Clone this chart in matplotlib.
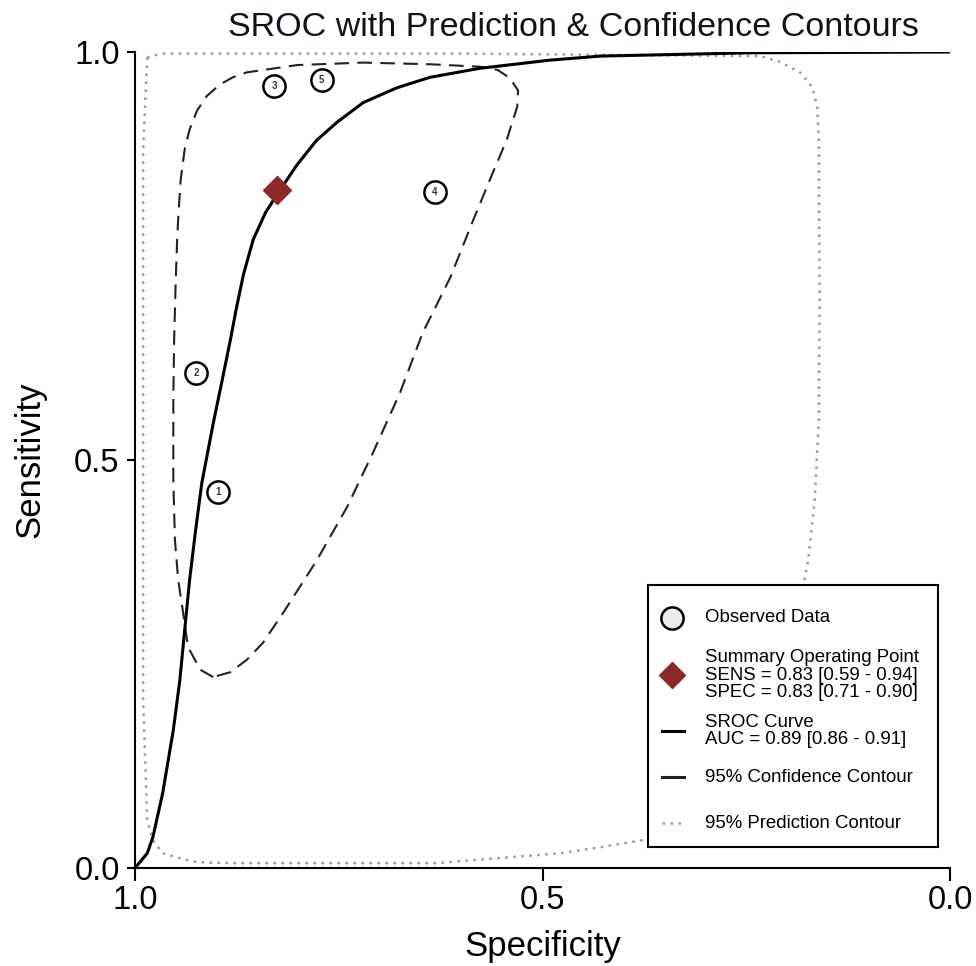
import numpy as np
import matplotlib.pyplot as plt
from matplotlib.lines import Line2D
from matplotlib.patches import Rectangle

plt.rcParams['font.family'] = ['Liberation Sans', 'DejaVu Sans']

# observed studies (specificity, sensitivity)
study_ids = ['1', '2', '3', '4', '5']
study_spec = [0.898, 0.925, 0.829, 0.632, 0.771]
study_sens = [0.461, 0.607, 0.958, 0.828, 0.966]

# summary operating point
sum_spec = 0.826
sum_sens = 0.831

# SROC curve
sroc_spec = [1.000, 0.985, 0.978, 0.966, 0.953, 0.945, 0.939, 0.933, 0.926, 0.918,
             0.904, 0.893, 0.883, 0.876, 0.867, 0.855, 0.840, 0.822, 0.801, 0.777,
             0.752, 0.720, 0.679, 0.638, 0.577, 0.491, 0.429, 0.245, 0.000]
sroc_sens = [0.000, 0.018, 0.038, 0.092, 0.169, 0.230, 0.292, 0.353, 0.411, 0.472,
             0.545, 0.598, 0.647, 0.684, 0.727, 0.770, 0.803, 0.831, 0.862, 0.892,
             0.914, 0.938, 0.956, 0.969, 0.980, 0.990, 0.995, 0.999, 1.000]

# 95% confidence contour
conf_spec = [0.904, 0.920, 0.935, 0.941, 0.947, 0.951, 0.953, 0.953, 0.952, 0.950,
             0.948, 0.946, 0.944, 0.939, 0.933, 0.924, 0.912, 0.896, 0.880, 0.863,
             0.801, 0.720, 0.638, 0.577, 0.555, 0.540, 0.530, 0.531, 0.544, 0.561,
             0.585, 0.613, 0.647, 0.675, 0.708, 0.740, 0.777, 0.818, 0.843, 0.863,
             0.883, 0.904]
conf_sens = [0.234, 0.243, 0.271, 0.313, 0.353, 0.402, 0.475, 0.574, 0.647, 0.721,
             0.778, 0.812, 0.843, 0.881, 0.905, 0.928, 0.946, 0.960, 0.969, 0.975,
             0.984, 0.987, 0.985, 0.982, 0.978, 0.968, 0.953, 0.933, 0.892, 0.852,
             0.794, 0.724, 0.656, 0.582, 0.509, 0.442, 0.377, 0.313, 0.276, 0.255,
             0.240, 0.234]

# 95% prediction contour
pred_spec = [0.985, 0.969, 0.600, 0.233, 0.209, 0.184, 0.169, 0.163, 0.161, 0.160,
             0.161, 0.166, 0.174, 0.188, 0.211, 0.245, 0.292, 0.344, 0.378, 0.432,
             0.479, 0.555, 0.631, 0.883, 0.924, 0.945, 0.966, 0.978, 0.985, 0.990,
             0.990, 0.985]
pred_sens = [0.993, 0.998, 0.998, 0.995, 0.988, 0.975, 0.957, 0.933, 0.892, 0.696,
             0.549, 0.451, 0.377, 0.304, 0.218, 0.138, 0.077, 0.043, 0.034, 0.025,
             0.018, 0.012, 0.006, 0.006, 0.007, 0.012, 0.018, 0.034, 0.059, 0.206,
             0.880, 0.993]

legend_labels = [
    'Observed Data',
    'Summary Operating Point\nSENS = 0.83 [0.59 - 0.94]\nSPEC = 0.83 [0.71 - 0.90]',
    'SROC Curve\nAUC = 0.89 [0.86 - 0.91]',
    '95% Confidence Contour',
    '95% Prediction Contour',
]

W, H = 976, 966
fig = plt.figure(figsize=(W/100, H/100), dpi=100)
ax = fig.add_axes([135/W, 1-868/H, 815/W, 816/H])

ax.plot(pred_spec, pred_sens, color='#9a9a9a', lw=1.8, linestyle=(0, (1, 2.2)))
ax.plot(conf_spec, conf_sens, color='#222222', lw=1.5, linestyle=(0, (7, 4)))
ax.plot(sroc_spec, sroc_sens, color='black', lw=2.2, solid_joinstyle='round')

ax.plot(study_spec, study_sens, 'o', ms=16, mfc='white', mec='black', mew=1.8, zorder=5)
for s, x, y in zip(study_ids, study_spec, study_sens):
    ax.text(x, y, s, ha='center', va='center', fontsize=7, fontweight='bold',
            color='#333344', zorder=6)

ax.plot([sum_spec], [sum_sens], 'D', ms=14, color='#8b2828', zorder=7)

ax.set_xlim(1, 0)
ax.set_ylim(0, 1)
ax.set_xticks([1.0, 0.5, 0.0])
ax.set_xticklabels(['1.0', '0.5', '0.0'])
ax.set_yticks([0.0, 0.5, 1.0])
ax.set_yticklabels(['0.0', '0.5', '1.0'])
ax.tick_params(axis='both', labelsize=23.5, width=1.5, direction='out')
ax.tick_params(axis='x', length=9, pad=3)
ax.tick_params(axis='y', length=6, pad=5)
for side in ['top', 'right']:
    ax.spines[side].set_visible(False)
for side in ['left', 'bottom']:
    ax.spines[side].set_linewidth(1.5)

ax.set_xlabel('Specificity', fontsize=25, labelpad=10)
ax.set_ylabel('Sensitivity', fontsize=25, labelpad=20)

fig.text(573/W, 1-27/H, 'SROC with Prediction & Confidence Contours',
         ha='center', va='center', fontsize=24.5, color='#111122')

# legend drawn by hand, in figure pixels
def fx(px):
    return px / W

def fy(py):
    return 1 - py / H

fig.add_artist(Rectangle((fx(648), fy(847)), fx(938) - fx(648), fy(585) - fy(847),
                         transform=fig.transFigure, facecolor='white',
                         edgecolor='black', lw=1.5, zorder=10))
entry_y = [618, 675, 731, 777, 823]
handles = [
    dict(marker='o', ls='none', ms=16, mfc='#ececec', mec='black', mew=1.8),
    dict(marker='D', ls='none', ms=13, color='#8b2828'),
    dict(color='black', lw=2.2),
    dict(color='#222222', lw=2.2),
    dict(color='#9a9a9a', lw=1.8, linestyle=(0, (1, 2.2))),
]
for py, hd, lab in zip(entry_y, handles, legend_labels):
    if hd.get('ls') == 'none':
        xs, ys = [fx(672)], [fy(py)]
    else:
        xs, ys = [fx(662), fx(684)], [fy(py), fy(py)]
    fig.add_artist(Line2D(xs, ys, transform=fig.transFigure, zorder=11, **hd))
    fig.text(fx(705), fy(py), lab, ha='left', va='center', fontsize=13.4,
             linespacing=1.03, zorder=11)

fig.savefig('out.png', dpi=100)
